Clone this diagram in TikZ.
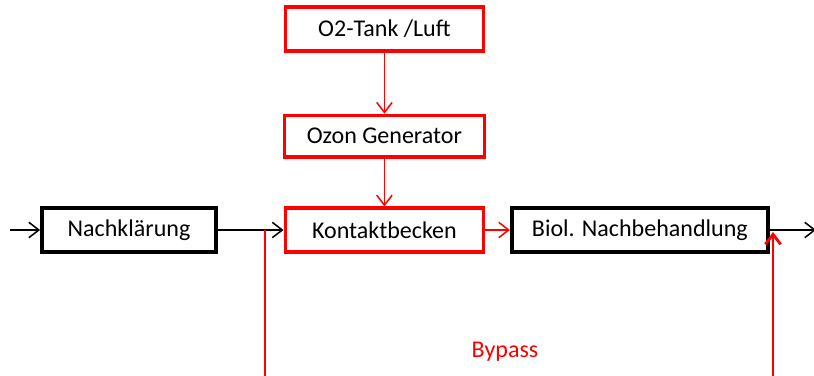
\documentclass[tikz,border=0pt]{standalone}
\usepackage{fontspec}
\setmainfont{Carlito}
\usetikzlibrary{arrows.meta,positioning}

\begin{document}
\begin{tikzpicture}[x=0.03cm,y=-0.03cm,>={Straight Barb[length=3mm,width=4.6mm]},
  font=\fontsize{20.5}{24}\selectfont,
  box/.style={draw,line width=3.2pt,minimum height=1.3cm,inner sep=0pt},
  redbox/.style={box,draw=red},
  flow/.style={->,line width=1.3pt},
  redflow/.style={flow,red}]
\clip (0,0) rectangle (814,376);
\node[box,minimum width=5.22cm] (nk) at (129,230) {Nachklärung};
\node[redbox,minimum width=5.94cm,right=1.97cm of nk] (kb) {Kontaktbecken};
\node[box,minimum width=7.68cm,right=0.74cm of kb] (bio) {Biol. Nachbehandlung};
\node[redbox,minimum width=6cm,minimum height=1.24cm,above=1.43cm of kb] (oz) {Ozon Generator};
\node[redbox,minimum width=5.94cm,minimum height=1.32cm,above=1.83cm of oz] (o2) {O2-Tank /Luft};
\node[red] (bypass) at (505,352) {Bypass};

\coordinate (in) at (10,230);
\coordinate (out) at (816,230);
\coordinate (bp) at (265,230);
\coordinate (bpend) at (773,232);

\draw[flow] (in) -- (nk);
\draw[flow] (nk) -- (kb);
\draw[redflow] (kb) -- (bio);
\draw[flow] (bio) -- (out);
\draw[redflow] (o2) -- (oz);
\draw[redflow] (oz) -- (kb);
\draw[redflow,line width=2.4pt] (bp) -- ++(0,160) -| (bpend);
\end{tikzpicture}
\end{document}
